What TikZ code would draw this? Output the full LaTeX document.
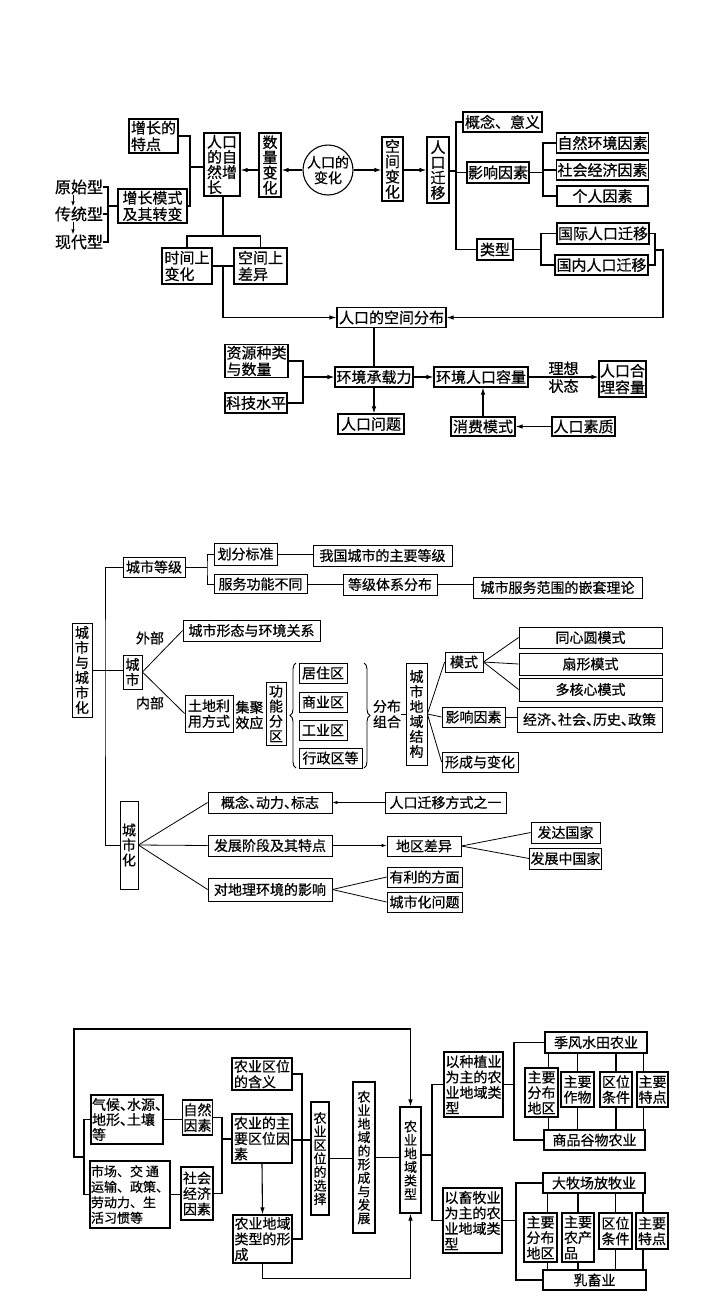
\documentclass[tikz,border=0pt]{standalone}
\usepackage{fontspec}
\setmainfont{Noto Sans CJK SC}[FakeBold=0.6]
\usepackage{tikz}
\usetikzlibrary{arrows.meta}
\usetikzlibrary{decorations.pathreplacing}
\newcommand{\fsz}[2]{\fontsize{#1}{#2}\selectfont}
\newcommand{\dunhao}{\makebox[0.5em][l]{、}}
\tikzset{
    bx/.style = {draw, line width=1.1pt, inner sep=1pt, align=center},
    bxt/.style = {draw, line width=0.8pt, inner sep=1pt, align=center},
    sz/.style 2 args = {minimum width=#1, minimum height=#2},
    txt/.style = {inner sep=0pt, align=center},
    edgen/.style = {line width=1.1pt},
    edgea/.style = {-{Latex[length=7pt,width=4.5pt]}, line width=1.1pt},
    edget/.style = {line width=0.8pt},
    edgeta/.style = {-{Latex[length=5pt,width=3.5pt]}, line width=0.8pt},
    brc/.style = {decorate, decoration={brace, amplitude=6pt}, line width=0.9pt},
    fa/.style = {font=\fsz{15}{16.5}},
    fv/.style = {font=\fsz{15}{15.2}},
    fb/.style = {font=\fsz{14}{15.5}},
    fbv/.style = {font=\fsz{14}{15}},
    fc/.style = {font=\fsz{14}{15.5}},
    fcv/.style = {font=\fsz{13}{13.5}}
}

\begin{document}
\begin{tikzpicture}[x=1pt, y=-1pt]
\fill[white] (0,0) rectangle (720,1301);
\useasboundingbox (0,0) rectangle (720,1301);
% population
\node[bx, fa, sz={49}{34}, align=left] at (153.5,136) (tezhi) {增长的\\特点};
\node[bx, fv, sz={36}{63}, align=left] at (222,164.5) (ziran) {人口\\的自\\然增\\长};
\node[bx, fv, sz={22}{64}] at (270,165) (shuliang) {数\\量\\变\\化};
\node[circle, draw, line width=1.1pt, minimum size=50, inner sep=-3pt, align=center, font=\fsz{14}{15.5}] at (328,170) (bianhua) {人口的\\变化};
\node[bx, fv, sz={21}{64}] at (392.5,169) (kongbian) {空\\间\\变\\化};
\node[bx, fv, sz={22}{66}] at (438,170) (qianyi) {人\\口\\迁\\移};
\node[bx, fa, sz={69}{34}, align=left] at (152.5,206) (moshi) {增长模式\\及其转变};
\node[txt, font=\fsz{16}{16}] at (79,187) (yuanshi) {原始型};
\node[txt, font=\fsz{16}{16}] at (79,214) (chuantong) {传统型};
\node[txt, font=\fsz{16}{16}] at (79,242) (xiandai) {现代型};
\node[bx, fa, sz={50}{36}, align=left] at (187,266) (shijian) {时间上\\变化};
\node[bx, fa, sz={53}{36}, align=left] at (260.5,266) (kongjian) {空间上\\差异};
\node[bx, fa, sz={109}{20}] at (391.5,317.5) (fenbu) {人口的空间分布};
\node[bx, fa, sz={79}{20}] at (502.5,122) (gainian) {概念、意义};
\node[bx, fa, sz={62}{21}] at (498,172.5) (yingxiang) {影响因素};
\node[bx, fa, sz={36}{21}] at (495,249.5) (leixing) {类型};
\node[bx, fa, sz={91}{20}] at (602.5,143) (zrhj) {自然环境因素};
\node[bx, fa, sz={91}{20}] at (602.5,170) (shjj) {社会经济因素};
\node[bx, fa, sz={91}{20}] at (602.5,196) (geren) {个人因素};
\node[bx, fa, sz={92}{21}] at (603,233.5) (guoji) {国际人口迁移};
\node[bx, fa, sz={93}{20}] at (601.5,265) (guonei) {国内人口迁移};
\node[bx, fa, sz={63}{32}, align=left] at (256.5,361) (ziyuan) {资源种类\\与数量};
\node[bx, fa, sz={62}{20}] at (256,403) (keji) {科技水平};
\node[bx, fa, sz={78}{20}] at (374,377) (chengzai) {环境承载力};
\node[bx, fa, sz={66}{20}] at (371,424) (wenti) {人口问题};
\node[bx, fa, sz={94}{20}] at (481,377) (rongliang) {环境人口容量};
\node[bx, fa, sz={47}{36}, align=left] at (622.5,379) (heli) {人口合\\理容量};
\node[bx, fa, sz={64}{19}] at (483,426.5) (xiaofei) {消费模式};
\node[bx, fa, sz={63}{19}] at (583.5,426.5) (suzhi) {人口素质};
%
\coordinate (jz) at (190,167);
\coordinate (kz) at (108,206);
\coordinate (fz) at (223,236);
\coordinate (sk) at (223,266);
\coordinate (qz) at (456,171);
\coordinate (yz) at (543,172.5);
\coordinate (lz) at (541,249.5);
\coordinate (gz) at (655,250);
\coordinate (zk) at (303,377);
\draw[edgen] (tezhi.east) -| (jz) |- (moshi.east);
\draw[edgen] (jz) -- (jz -| ziran.west);
\draw[edgea] (bianhua.west) -- (bianhua.west -| shuliang.east);
\draw[edgea] (shuliang.west |- bianhua.west) -- (ziran.east |- bianhua.west);
\draw[edgea] (bianhua.east) -- (bianhua.east -| kongbian.west);
\draw[edgea] (kongbian.east |- bianhua.east) -- (qianyi.west |- bianhua.east);
\draw[edgen] (yuanshi.east) -| (kz) |- (xiandai.east);
\draw[edgen] (chuantong.east) -- (chuantong.east -| kz);
\draw[edgen] (kz) -- (moshi.west);
\draw[edgeta] ([xshift=-6pt]yuanshi.south) -- ([xshift=-6pt]chuantong.north);
\draw[edgeta] ([xshift=-6pt]chuantong.south) -- ([xshift=-6pt]xiandai.north);
\draw[edgen] (ziran.south -| fz) -- (fz);
\draw[edgen] (shijian.north) |- (fz) -| (kongjian.north);
\draw[edgen] (shijian.east) -- (kongjian.west);
\draw[edgea] (sk) |- (fenbu.west);
\draw[edgen] (qianyi.east |- qz) -- (qz);
\draw[edgen] (gainian.west) -| (qz) |- (leixing.west);
\draw[edgen] (yingxiang.west) -- (yingxiang.west -| qz);
\draw[edgen] (yingxiang.east) -- (yz);
\draw[edgen] (zrhj.west) -| (yz) |- (geren.west);
\draw[edgen] (shjj.west) -- (shjj.west -| yz);
\draw[edgen] (leixing.east) -- (lz);
\draw[edgen] (guoji.west) -| (lz) |- (guonei.west);
\draw[edgen] (guoji.east) -| (gz) |- (guonei.east);
\draw[edgea] (gz) -- ++(8,0) |- (fenbu.east);
\draw[edgen] (fenbu.south -| chengzai.north) -- (chengzai.north);
\draw[edgea] (chengzai.south) -- (chengzai.south |- wenti.north);
\draw[edgen] (ziyuan.east) -| (zk) |- (keji.east);
\draw[edgea] (zk) -- (chengzai.west);
\draw[edgea] (chengzai.east) -- (rongliang.west);
\draw[edgea] (rongliang.east) -- node[above, inner sep=1.5pt, fa]{理想} node[below, inner sep=1.5pt, fa]{状态} (rongliang.east -| heli.west);
\draw[edgea] (xiaofei.north) -- (xiaofei.north |- rongliang.south);
\draw[edgea] (suzhi.west) -- (xiaofei.east);

% city
\node[bxt, fbv, sz={20}{94}] at (82,670) (csch) {城\\市\\与\\城\\市\\化};
\node[bxt, fb, sz={62}{20}] at (154,567) (dengji) {城市等级};
\node[bxt, fb, sz={63}{22}] at (245.5,554) (huafen) {划分标准};
\node[bxt, fb, sz={93}{19}] at (260.5,584) (fuwu) {服务功能不同};
\node[bxt, fb, sz={139}{21}] at (382.5,555.5) (woguo) {我国城市的主要等级};
\node[bxt, fb, sz={94}{21}] at (390,584.5) (tixi) {等级体系分布};
\node[bxt, fb, sz={169}{21}] at (557.5,587.5) (qiantao) {城市服务范围的嵌套理论};
\node[bxt, fbv, sz={19}{34}] at (132.5,672) (chengshi) {城\\市};
\node[txt, fb] at (150,638) (waibu) {外部};
\node[txt, fb] at (150,703) (neibu) {内部};
\node[bxt, fb, sz={137}{21}] at (251.5,630.5) (xingtai) {城市形态与环境关系};
\node[bxt, fb, sz={48}{37}, align=left] at (209,713.5) (tudi) {土地利\\用方式};
\node[txt, fb] at (249.5,715) (jiju) {集聚\\效应};
\node[bxt, fbv, sz={20}{63}] at (276,713.5) (gongneng) {功\\能\\分\\区};
\node[bxt, fb, sz={48}{20}] at (323,673) (juzhu) {居住区};
\node[bxt, fb, sz={48}{20}] at (323,702) (shangye) {商业区};
\node[bxt, fb, sz={48}{20}] at (323,730) (gongye) {工业区};
\node[bxt, fb, sz={63}{20}] at (330.5,758) (xingzheng) {行政区等};
\node[txt, fb] at (387,714) (fbzh) {分布\\组合};
\node[bxt, fbv, sz={21}{102}] at (416.5,714) (jiegou) {城\\市\\地\\域\\结\\构};
\node[bxt, fb, sz={38}{20}] at (464,662) (mshi) {模式};
\node[bxt, fb, sz={63}{20}] at (473.5,717) (yxys) {影响因素};
\node[bxt, fb, sz={76}{20}] at (480,762) (xcbh) {形成与变化};
\node[bxt, fb, sz={143}{21}] at (590.5,637.5) (tongxin) {同心圆模式};
\node[bxt, fb, sz={143}{22}] at (590.5,664) (shanxing) {扇形模式};
\node[bxt, fb, sz={143}{23}] at (590.5,689.5) (duohe) {多核心模式};
\node[bxt, fb, sz={145}{25}] at (589.5,719.5) (jingji) {经济\dunhao 社会\dunhao 历史\dunhao 政策};
\node[bxt, fbv, sz={18}{88}] at (129,845) (csh) {城\\市\\化};
\node[bxt, fb, sz={124}{21}] at (270,802.5) (gnd) {概念\dunhao 动力\dunhao 标志};
\node[bxt, fb, sz={121}{21}] at (445.5,802.5) (qyfs) {人口迁移方式之一};
\node[bxt, fb, sz={124}{21}] at (270,845.5) (fzjd) {发展阶段及其特点};
\node[bxt, fb, sz={74}{20}] at (424,846) (dqcy) {地区差异};
\node[bxt, fb, sz={69}{21}] at (565.5,832.5) (fada) {发达国家};
\node[bxt, fb, sz={69}{21}] at (565.5,858.5) (fzzh) {发展中国家};
\node[bxt, fb, sz={124}{23}] at (270,889.5) (dlhj) {对地理环境的影响};
\node[bxt, fb, sz={75}{20}] at (424.5,877) (youli) {有利的方面};
\node[bxt, fb, sz={75}{20}] at (424.5,902) (wenti2) {城市化问题};
%
\coordinate (tr) at (105,670);
\coordinate (dz) at (207,567);
\draw[edget] (csch.east) -- (csch.east -| chengshi.west);
\draw[edget] (dengji.west) -| (tr) |- (csh.west);
\draw[edget] (dengji.east) -- (dz);
\draw[edget] (huafen.west) -| (dz) |- (fuwu.west);
\draw[edget] (huafen.east) -- (huafen.east -| woguo.west);
\draw[edget] (fuwu.east) -- (fuwu.east -| tixi.west);
\draw[edget] (tixi.east) -- (tixi.east -| qiantao.west);
\draw[edget] (chengshi.east) -- (xingtai.west);
\draw[edget] (chengshi.east) -- (tudi.west);
\draw[brc] (296,768) -- (296,663);
\draw[brc] (364,663) -- (364,768);
\draw[edget] (fbzh.east) -- (fbzh.east -| jiegou.west);
\foreach \n in {mshi, yxys, xcbh} {\draw[edget] (jiegou.east) -- (\n.west);}
\foreach \n in {tongxin, shanxing, duohe} {\draw[edget] (mshi.east) -- (\n.west);}
\draw[edget] (yxys.east) -- (yxys.east -| jingji.west);
\foreach \n in {gnd, fzjd, dlhj} {\draw[edget] (csh.east) -- (\n.west);}
\draw[edgeta] (qyfs.west) -- (gnd.east);
\draw[edgeta] (fzjd.east) -- (fzjd.east -| dqcy.west);
\draw[edget] (dqcy.east) -- (fada.west);
\draw[edget] (dqcy.east) -- (fzzh.west);
\draw[edget] (dlhj.east) -- (youli.west);
\draw[edget] (dlhj.east) -- (wenti2.west);

% agriculture
\node[bx, font=\fsz{14}{15}, sz={70}{49}, align=left] at (127,1119.5) (qihou) {气候\dunhao 水源\dunhao\\地形\dunhao 土壤\\等};
\node[bx, font=\fsz{13}{15.5}, sz={80}{67}, align=left] at (130,1194.5) (shichang) {市场、交 通\\运输、政策、\\劳动力、生\\活习惯等};
\node[bx, fc, sz={29}{35}] at (197.5,1117.5) (ziranys) {自然\\因素};
\node[bx, fc, sz={32}{53}] at (197,1193.5) (shehui) {社会\\经济\\因素};
\node[bx, fc, sz={60}{32}, align=left] at (262,1074) (hanyi) {农业区位\\的含义};
\node[bx, fc, sz={60}{49}, align=left] at (262,1138.5) (zhuyao) {农业的主\\要区位因\\素};
\node[bx, fc, sz={59}{48}, align=left] at (262.5,1239) (xingcheng) {农业地域\\类型的形\\成};
\node[bx, fcv, sz={18}{113}] at (320,1158.5) (xuanze) {农\\业\\区\\位\\的\\选\\择};
\node[bx, fcv, sz={22}{151}] at (364,1157.5) (fazhan) {农\\业\\地\\域\\的\\形\\成\\与\\发\\展};
\node[bx, fcv, sz={21}{106}] at (410.5,1160) (lxing) {农\\业\\地\\域\\类\\型};
\node[bx, fc, sz={59}{65}, align=left] at (473.5,1084.5) (zhongzhi) {以种植业\\为主的农\\业地域类\\型};
\node[bx, fc, sz={59}{65}, align=left] at (472.5,1220.5) (xumu) {以畜牧业\\为主的农\\业地域类\\型};
\node[bx, fc, sz={102}{21}] at (596,1042.5) (jifeng) {季风水田农业};
\node[bx, fc, sz={101}{20}] at (594.5,1140) (shangpin) {商品谷物农业};
\node[bx, fc, sz={33}{49}] at (541.5,1092.5) (sa) {主要\\分布\\地区};
\node[bx, fc, sz={33}{35}] at (577.5,1089.5) (sb) {主要\\作物};
\node[bx, fc, sz={32}{35}] at (616,1089.5) (sc) {区位\\条件};
\node[bx, fc, sz={31}{35}] at (652.5,1089.5) (sd) {主要\\特点};
\node[bx, fc, sz={102}{20}] at (594,1183) (damu) {大牧场放牧业};
\node[bx, fc, sz={103}{20}] at (594.5,1280) (ruxu) {乳畜业};
\node[bx, fc, sz={33}{49}] at (540.5,1237.5) (ta) {主要\\分布\\地区};
\node[bx, fc, sz={32}{49}, align=left] at (578,1237.5) (tb) {主要\\农产\\品};
\node[bx, fc, sz={33}{36}] at (615.5,1231) (tc) {区位\\条件};
\node[bx, fc, sz={32}{36}] at (652,1231) (td) {主要\\特点};
%
\coordinate (qz3) at (84,1157);
\coordinate (tp) at (410.5,1029);
\coordinate (nz) at (222,1139);
\coordinate (hz) at (302,1140);
\coordinate (lz3) at (432,1155);
\coordinate (zz) at (514,1084.5);
\coordinate (xz3) at (516,1220.5);
\draw[edgen] (qihou.west) -| (qz3) |- (shichang.west);
\draw[edgea] (qz3) -- ++(-10,0) |- (tp) -- (lxing.north);
\draw[edgen] (qihou.east) -- (qihou.east -| ziranys.west);
\draw[edgen] (shichang.east) -- (shichang.east -| shehui.west);
\draw[edgen] (ziranys.east) -| (nz) |- (shehui.east);
\draw[edgen] (nz) -- (nz -| zhuyao.west);
\draw[edgea] (zhuyao.south) -- (xingcheng.north);
\draw[edgen] (hanyi.east) -| (hz) |- (xingcheng.east);
\draw[edgen] (zhuyao.east |- hz) -- (hz -| xuanze.west);
\draw[edgen] (xuanze.east) -- (xuanze.east -| fazhan.west);
\draw[edgen] (fazhan.east) -- (fazhan.east -| lxing.west);
\draw[edgea] (xingcheng.south) -- ++(0,15) -| (lxing.south);
\draw[edgen] (lxing.east |- lz3) -- (lz3);
\draw[edgen] (zhongzhi.west) -| (lz3) |- (xumu.west);
\draw[edgen] (zhongzhi.east) -- (zz);
\draw[edgen] (jifeng.west) -| (zz) |- (shangpin.west);
\draw[edgen] (xumu.east) -- (xz3);
\draw[edgen] (damu.west) -| (xz3) |- (ruxu.west);
\foreach \n/\s in {sa/7,sb/0,sc/0,sd/-9} {
  \path ([xshift=\s pt]\n.north) coordinate (up) ([xshift=\s pt]\n.south) coordinate (dn);
  \draw[edgen] (up) -- (up |- jifeng.south);
  \draw[edgen] (dn) -- (dn |- shangpin.north);
}
\foreach \n/\s in {ta/7,tb/0,tc/0,td/-9} {
  \path ([xshift=\s pt]\n.north) coordinate (up) ([xshift=\s pt]\n.south) coordinate (dn);
  \draw[edgen] (up) -- (up |- damu.south);
  \draw[edgen] (dn) -- (dn |- ruxu.north);
}
\end{tikzpicture}
\end{document}
